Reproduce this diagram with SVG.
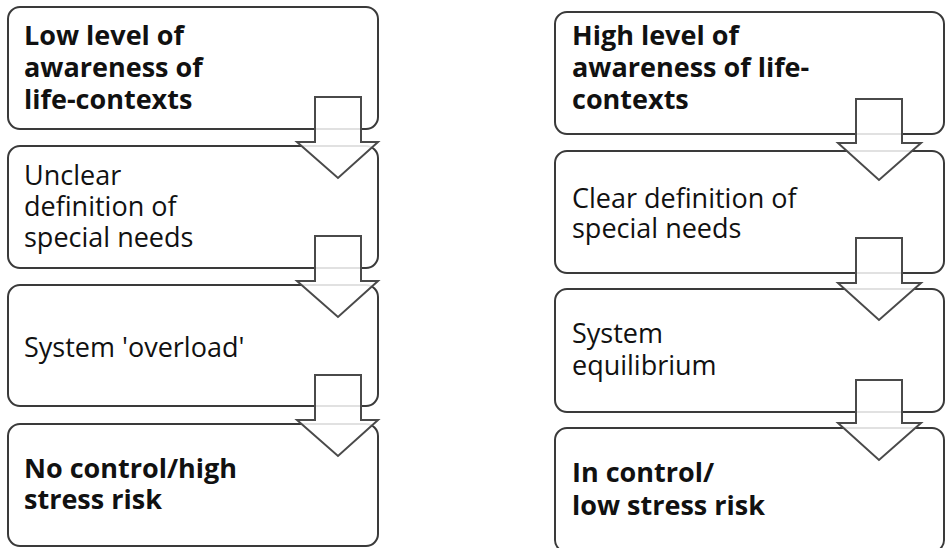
<svg xmlns="http://www.w3.org/2000/svg" width="951" height="548" viewBox="0 0 951 548">
<style>
.box{fill:#fff;stroke:#3a3a3a;stroke-width:2}
.arr{fill:#fff;fill-opacity:0.85;stroke:#4a4a4a;stroke-width:2;stroke-linejoin:miter}
text{font-family:"Open Sans","Noto Sans",sans-serif;font-size:27px;fill:#111}
.b{font-weight:bold}
</style>
<rect width="951" height="548" fill="#fff"/>
<g id="L1"><rect class="box" x="8" y="7" width="370" height="122" rx="12"/><text class="b" x="24" y="45">Low level of</text><text class="b" x="24" y="77">awareness of</text><text class="b" x="24" y="109">life-contexts</text></g>
<g id="L2"><rect class="box" x="8" y="146" width="370" height="122" rx="12"/><text x="24" y="185">Unclear</text><text x="24" y="216">definition of</text><text x="24" y="247">special needs</text></g>
<g id="L3"><rect class="box" x="8" y="285" width="370" height="121" rx="12"/><text x="24" y="357">System 'overload'</text></g>
<g id="L4"><rect class="box" x="8" y="424" width="370" height="122" rx="12"/><text class="b" x="24" y="478">No control/high</text><text class="b" x="24" y="509">stress risk</text></g>
<g id="R1"><rect class="box" x="555" y="12" width="389" height="122" rx="12"/><text class="b" x="572" y="45">High level of</text><text class="b" x="572" y="77">awareness of life-</text><text class="b" x="572" y="109">contexts</text></g>
<g id="R2"><rect class="box" x="555" y="151" width="389" height="122" rx="12"/><text x="572" y="208">Clear definition of</text><text x="572" y="238">special needs</text></g>
<g id="R3"><rect class="box" x="555" y="289" width="389" height="123" rx="12"/><text x="572" y="343">System</text><text x="572" y="375">equilibrium</text></g>
<g id="R4"><rect class="box" x="555" y="428" width="389" height="124" rx="12"/><text class="b" x="572" y="482">In control/</text><text class="b" x="572" y="515">low stress risk</text></g>
<g id="connectors">
<path class="arr" d="M315 97H361V142H378L338 178L297 142H315Z"/>
<path class="arr" d="M315 236H361V281H378L338 317L297 281H315Z"/>
<path class="arr" d="M315 375H361V420H378L338 456L297 420H315Z"/>
<path class="arr" d="M856 99H902V143H921L879 180L838 143H856Z"/>
<path class="arr" d="M856 238H902V283H921L879 320L838 283H856Z"/>
<path class="arr" d="M856 380H902V423H921L879 460L838 423H856Z"/>
</g>
</svg>
